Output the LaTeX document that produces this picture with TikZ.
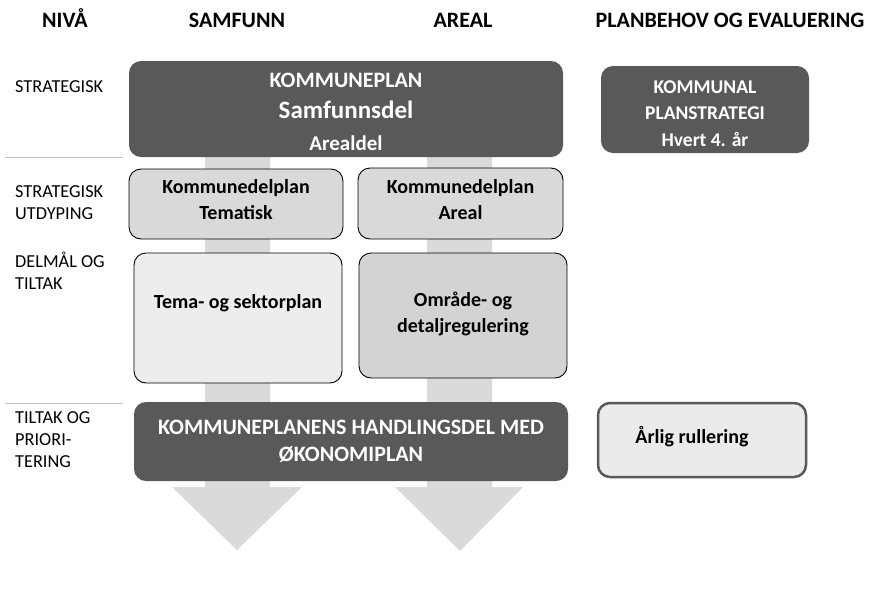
\documentclass[tikz,border=0pt]{standalone}
\usepackage{fontspec}
\setmainfont{Carlito}

\definecolor{darkbox}{HTML}{595959}
\definecolor{lightbox}{HTML}{D9D9D9}
\definecolor{midbox}{HTML}{D3D3D3}
\definecolor{palebox}{HTML}{EDEDED}
\definecolor{arrowgray}{HTML}{DADADA}
\definecolor{rulegray}{HTML}{BFBFBF}

\tikzset{
  darkplan/.style={fill=darkbox, rounded corners=12pt, inner sep=0pt},
  lightplan/.style={draw=black, line width=0.9pt, fill=lightbox, rounded corners=12pt, inner sep=0pt},
  whitetext/.style={text=white, align=center, inner sep=0pt, font=\bfseries\fontsize{22}{27}\selectfont},
  blacktext/.style={align=center, inner sep=0pt, font=\bfseries\fontsize{20}{26}\selectfont},
  header/.style={anchor=base, font=\bfseries\fontsize{22}{26}\selectfont},
  level/.style={anchor=west, align=left, inner sep=0pt, font=\fontsize{18.3}{22}\selectfont},
}

\begin{document}
\begin{tikzpicture}[x=1pt,y=-1pt]
    \useasboundingbox (0,0) rectangle (880,592);
    % Column headers
    \node[header] (nivaa) at (65,27.5) {NIVÅ};
    \node[header] (samfunn) at (237,27.5) {SAMFUNN};
    \node[header] (areal) at (463,27.5) {AREAL};
    \node[header] (planbehov) at (730,27.5) {PLANBEHOV OG EVALUERING};
    % Levels
    \node[level] (strategisk) at (15,87) {STRATEGISK};
    \node[level] (utdyping) at (15,202.5) {STRATEGISK\\UTDYPING};
    \node[level] (delmaal) at (15,270.5) {DELMÅL OG\\TILTAK};
    \node[level] (prioritering) at (15,440) {TILTAK OG\\PRIORI-\\TERING};
    \draw[rulegray] (5,157) -- (123,157);
    \draw[rulegray] (5,403) -- (123,403);
    % Big arrows behind the boxes
    \fill[arrowgray] (205,140) -- (270,140) -- (270,487) -- (302,487) -- (237,550) -- (172,487) -- (205,487) -- cycle; % samfunn
    \fill[arrowgray] (427,140) -- (492,140) -- (492,487) -- (523,487) -- (460,551) -- (395,487) -- (427,487) -- cycle; % areal
    % Strategic level
    \node[darkplan, minimum width=434pt, minimum height=96pt] (kommuneplan) at (346,109) {};
    \node[whitetext] (kommuneplantxt) at ([yshift=-2.5pt]kommuneplan.center)
      {KOMMUNEPLAN\\[4.5pt]{\fontsize{25}{27}\selectfont Samfunnsdel}\\[4.5pt]{\fontsize{21}{27}\selectfont Arealdel}};
    \node[darkplan, minimum width=208pt, minimum height=87pt] (planstrategi) at (705,109.5) {};
    \node[whitetext, font=\bfseries\fontsize{19.5}{26.5}\selectfont] (planstrategitxt) at ([yshift=-4pt]planstrategi.center)
      {KOMMUNAL\\PLANSTRATEGI\\Hvert 4. år};
    % Kommunedelplaner
    \node[lightplan, minimum width=214pt, minimum height=70pt] (tematisk) at (236,204) {};
    \node[blacktext] (tematisktxt) at ([yshift=4pt]tematisk.center) {Kommunedelplan\\Tematisk};
    \node[lightplan, minimum width=205pt, minimum height=71pt] (kdpareal) at (460.5,203.5) {};
    \node[blacktext] (kdparealtxt) at ([yshift=4pt]kdpareal.center) {Kommunedelplan\\Areal};
    % Detailed plans
    \node[lightplan, fill=palebox, minimum width=208pt, minimum height=130pt] (tema) at (238,318) {};
    \node[blacktext] (tematxt) at ([yshift=15pt]tema.center) {Tema- og sektorplan};
    \node[lightplan, fill=midbox, minimum width=208pt, minimum height=125pt] (omraade) at (463,315.5) {};
    \node[blacktext] (omraadetxt) at ([yshift=1.5pt]omraade.center) {Område- og\\detaljregulering};
    % Action level
    \node[darkplan, minimum width=434pt, minimum height=79pt] (handlingsdel) at (351,441.5) {};
    \node[whitetext] (handlingsdeltxt) at (handlingsdel.center) {KOMMUNEPLANENS HANDLINGSDEL MED\\ØKONOMIPLAN};
    \node[lightplan, draw=darkbox, line width=2.5pt, fill=palebox!90!lightbox, minimum width=208pt, minimum height=74pt] (rullering) at (702,440) {};
    \node[blacktext] (rulleringtxt) at ([xshift=-10pt,yshift=3pt]rullering.center) {Årlig rullering};
\end{tikzpicture}
\end{document}
